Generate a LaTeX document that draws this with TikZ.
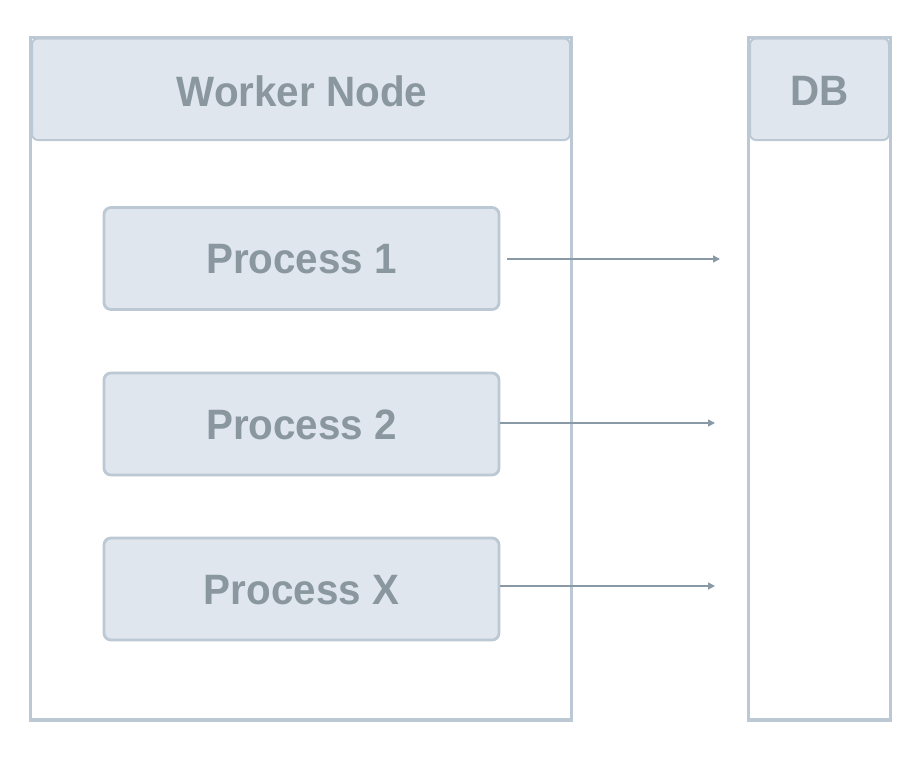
\documentclass[tikz,border=0pt]{standalone}
\usepackage{fontspec}
\setmainfont{Liberation Sans}[FakeStretch=0.95]
\usetikzlibrary{arrows.meta}
\definecolor{bordc}{HTML}{BCC9D4}
\definecolor{fillc}{HTML}{DFE6EE}
\definecolor{txtc}{HTML}{8A979F}
\definecolor{arrc}{HTML}{8A99A6}
\tikzset{
  outerbox/.style={draw=bordc, line width=3.5pt, fill=white},
  headbox/.style={draw=bordc, line width=2pt, fill=fillc, rounded corners=6pt},
  procbox/.style={draw=bordc, line width=2.8pt, fill=fillc, rounded corners=7pt},
  lbl/.style={text=txtc, font=\fontsize{42.5}{48}\selectfont\bfseries},
  conn/.style={draw=arrc, line width=1.5pt, -{Triangle[length=7pt,width=7pt]}}
}
\begin{document}
\begin{tikzpicture}[x=1pt,y=-1pt]
\useasboundingbox (0,0) rectangle (914,758);
% worker node
\path[outerbox] (30.5,37.5) rectangle (571.5,720);
\path[headbox] (32,38.5) rectangle (570,140);
\node[lbl] (wn) at (302,91) {Worker Node};
% DB
\path[outerbox] (748.5,37.5) rectangle (890.5,720);
\path[headbox] (750,38.5) rectangle (889,140);
\node[lbl] (db) at (819.5,91) {DB};
% processes
\node[procbox, minimum width=395pt, minimum height=102pt, inner sep=0pt] (p1) at (301.5,258.5) {};
\node[lbl] (t1) at ([yshift=-1pt]p1.center) {Process 1};
\node[procbox, minimum width=395pt, minimum height=102pt, inner sep=0pt] (p2) at (301.5,424) {};
\node[lbl] (t2) at ([yshift=-1pt]p2.center) {Process 2};
\node[procbox, minimum width=395pt, minimum height=102pt, inner sep=0pt] (p3) at (301.5,589) {};
\node[lbl] (t3) at ([yshift=-1pt]p3.center) {Process X};
% arrow endpoints
\coordinate (e1s) at (507,259);
\coordinate (e1) at (720,259);
\coordinate (e2) at (715,423);
\coordinate (e3) at (715,586);
\draw[conn] (e1s) -- (e1);
\draw[conn] (p2.east |- e2) -- (e2);
\draw[conn] (p3.east |- e3) -- (e3);
\end{tikzpicture}
\end{document}
